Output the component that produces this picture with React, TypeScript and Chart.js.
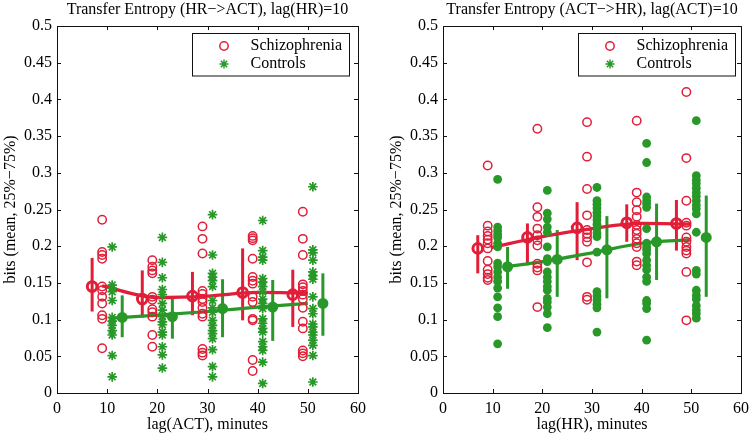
import React, { useEffect, useRef } from "react";
import { Chart, registerables } from "chart.js";
Chart.register(...registerables);

const RED = "rgb(224,30,56)";
const GREEN = "rgb(40,152,40)";
const FONT = "'Liberation Serif', 'Times New Roman', serif";

// ---------- shared axis data ----------
const xTicksMax = 60;
const yTicksMax = 0.5;
const schizoRawLags = [9, 19, 29, 39, 49];
const ctlRawLags = [11, 21, 31, 41, 51];
const schizoMeanLags = [7, 17, 27, 37, 47];
const ctlMeanLags = [13, 23, 33, 43, 53];

// ---------- Left panel: Transfer Entropy (HR->ACT) ----------
const hrActSchizo10 = [0.236, 0.192, 0.188, 0.183, 0.145, 0.140, 0.131, 0.122, 0.106, 0.101, 0.061];
const hrActSchizo20 = [0.181, 0.172, 0.167, 0.163, 0.131, 0.127, 0.114, 0.110, 0.104, 0.079, 0.063];
const hrActSchizo30 = [0.227, 0.210, 0.190, 0.139, 0.135, 0.128, 0.124, 0.116, 0.108, 0.104, 0.060, 0.055, 0.051];
const hrActSchizo40 = [0.214, 0.211, 0.208, 0.183, 0.158, 0.153, 0.149, 0.131, 0.124, 0.101, 0.099, 0.045, 0.030];
const hrActSchizo50 = [0.247, 0.210, 0.188, 0.148, 0.144, 0.139, 0.134, 0.128, 0.116, 0.097, 0.088, 0.058, 0.054, 0.050];

const hrActCtl10 = [0.199, 0.147, 0.143, 0.138, 0.126, 0.103, 0.098, 0.092, 0.085, 0.079, 0.051, 0.022];
const hrActCtl20 = [0.212, 0.178, 0.157, 0.141, 0.134, 0.122, 0.113, 0.104, 0.097, 0.093, 0.083, 0.079, 0.063, 0.052, 0.034];
const hrActCtl30 = [0.243, 0.188, 0.163, 0.158, 0.153, 0.145, 0.126, 0.116, 0.110, 0.099, 0.092, 0.085, 0.081, 0.074, 0.059, 0.036, 0.022];
const hrActCtl40 = [0.235, 0.194, 0.185, 0.181, 0.156, 0.151, 0.145, 0.138, 0.128, 0.122, 0.115, 0.101, 0.095, 0.088, 0.083, 0.070, 0.063, 0.058, 0.042, 0.013];
const hrActCtl50 = [0.281, 0.195, 0.191, 0.181, 0.165, 0.160, 0.155, 0.131, 0.115, 0.108, 0.094, 0.090, 0.083, 0.079, 0.072, 0.065, 0.051, 0.015];

const hrActSchizoMean = [0.145, 0.128, 0.132, 0.137, 0.134];
const hrActSchizoLo = [0.111, 0.103, 0.106, 0.099, 0.090];
const hrActSchizoHi = [0.184, 0.167, 0.165, 0.197, 0.168];
const hrActCtlMean = [0.103, 0.104, 0.115, 0.117, 0.122];
const hrActCtlLo = [0.076, 0.074, 0.076, 0.071, 0.078];
const hrActCtlHi = [0.133, 0.129, 0.155, 0.154, 0.163];

const hrActSchizoFitX = [9, 20, 30, 40, 50];
const hrActSchizoFitY = [0.146, 0.130, 0.132, 0.137, 0.136];
const hrActCtlFitX = [11, 20, 30, 40, 50];
const hrActCtlFitY = [0.102, 0.106, 0.111, 0.117, 0.122];

// ---------- Right panel: Transfer Entropy (ACT->HR) ----------
const actHrSchizo10 = [0.310, 0.228, 0.220, 0.214, 0.209, 0.204, 0.197, 0.180, 0.168, 0.162, 0.157, 0.154];
const actHrSchizo20 = [0.360, 0.253, 0.240, 0.224, 0.215, 0.208, 0.201, 0.176, 0.171, 0.167, 0.117];
const actHrSchizo30 = [0.369, 0.322, 0.278, 0.242, 0.222, 0.217, 0.212, 0.206, 0.178, 0.131, 0.127];
const actHrSchizo40 = [0.371, 0.273, 0.260, 0.249, 0.240, 0.229, 0.222, 0.217, 0.210, 0.204, 0.199, 0.179, 0.174];
const actHrSchizo50 = [0.410, 0.320, 0.262, 0.232, 0.228, 0.212, 0.206, 0.199, 0.194, 0.190, 0.165, 0.099];

const actHrCtl10 = [0.291, 0.226, 0.221, 0.216, 0.212, 0.204, 0.199, 0.177, 0.172, 0.165, 0.158, 0.152, 0.143, 0.131, 0.116, 0.104, 0.067];
const actHrCtl20 = [0.276, 0.245, 0.237, 0.226, 0.219, 0.199, 0.183, 0.179, 0.165, 0.158, 0.152, 0.145, 0.140, 0.129, 0.124, 0.117, 0.108, 0.089];
const actHrCtl30 = [0.280, 0.262, 0.257, 0.252, 0.246, 0.241, 0.236, 0.230, 0.224, 0.218, 0.213, 0.192, 0.138, 0.132, 0.127, 0.121, 0.116, 0.083];
const actHrCtl40 = [0.340, 0.314, 0.267, 0.262, 0.258, 0.253, 0.224, 0.204, 0.199, 0.195, 0.190, 0.181, 0.174, 0.168, 0.158, 0.152, 0.126, 0.122, 0.115, 0.072];
const actHrCtl50 = [0.371, 0.296, 0.290, 0.285, 0.279, 0.273, 0.268, 0.262, 0.256, 0.251, 0.244, 0.219, 0.167, 0.162, 0.140, 0.133, 0.128, 0.119, 0.113, 0.108, 0.102];

const actHrSchizoMean = [0.197, 0.212, 0.225, 0.232, 0.231];
const actHrSchizoLo = [0.163, 0.174, 0.181, 0.206, 0.194];
const actHrSchizoHi = [0.215, 0.231, 0.260, 0.257, 0.263];
const actHrCtlMean = [0.172, 0.182, 0.195, 0.206, 0.212];
const actHrCtlLo = [0.142, 0.131, 0.129, 0.154, 0.131];
const actHrCtlHi = [0.199, 0.222, 0.241, 0.258, 0.269];

const actHrSchizoFitX = [9.6, 20, 30, 40, 50];
const actHrSchizoFitY = [0.198, 0.213, 0.224, 0.231, 0.230];
const actHrCtlFitX = [12.6, 20, 30, 40, 50];
const actHrCtlFitY = [0.172, 0.179, 0.191, 0.204, 0.209];

// ---------- helpers ----------
const groupPoints = (lags: number[], groups: number[][]) =>
  groups.flatMap((vals, i) => vals.map((v) => ({ x: lags[i], y: v })));
const zipPoints = (xs: number[], ys: number[]) => xs.map((x, i) => ({ x, y: ys[i] }));

function drawStar(ctx: CanvasRenderingContext2D, x: number, y: number, r: number) {
  ctx.beginPath();
  ctx.moveTo(x - r, y); ctx.lineTo(x + r, y);
  ctx.moveTo(x, y - r); ctx.lineTo(x, y + r);
  const d = r * Math.SQRT1_2;
  ctx.moveTo(x - d, y - d); ctx.lineTo(x + d, y + d);
  ctx.moveTo(x - d, y + d); ctx.lineTo(x + d, y - d);
  ctx.stroke();
}

const framePlugin = {
  id: "frame",
  beforeDatasetsDraw(chart: any, _a: any, opts: any) {
    const ctx = chart.ctx;
    const xs = chart.scales.x, ys = chart.scales.y;
    ctx.save();
    ctx.lineCap = "butt";
    (opts.bars || []).forEach((b: any) => {
      ctx.strokeStyle = b.color;
      ctx.lineWidth = 3;
      b.xs.forEach((xv: number, i: number) => {
        const px = xs.getPixelForValue(xv);
        ctx.beginPath();
        ctx.moveTo(px, ys.getPixelForValue(b.lo[i]));
        ctx.lineTo(px, ys.getPixelForValue(b.hi[i]));
        ctx.stroke();
      });
    });
    ctx.restore();
  },
  afterDraw(chart: any, _a: any, opts: any) {
    const ctx = chart.ctx;
    const { left, right, top, bottom } = chart.chartArea;
    const xs = chart.scales.x, ys = chart.scales.y;
    ctx.save();
    // box
    ctx.strokeStyle = "#111";
    ctx.lineWidth = 1;
    ctx.strokeRect(Math.round(left) + 0.5, Math.round(top) + 0.5, Math.round(right - left), Math.round(bottom - top));
    // inward ticks
    const tl = 4;
    ys.ticks.forEach((t: any) => {
      const py = Math.round(ys.getPixelForValue(t.value)) + 0.5;
      ctx.beginPath();
      ctx.moveTo(left, py); ctx.lineTo(left + tl, py);
      ctx.moveTo(right, py); ctx.lineTo(right - tl, py);
      ctx.stroke();
    });
    xs.ticks.forEach((t: any) => {
      const px = Math.round(xs.getPixelForValue(t.value)) + 0.5;
      ctx.beginPath();
      ctx.moveTo(px, bottom); ctx.lineTo(px, bottom - tl);
      ctx.moveTo(px, top); ctx.lineTo(px, top + tl);
      ctx.stroke();
    });
    // title
    ctx.fillStyle = "#000";
    ctx.font = `16px ${FONT}`;
    ctx.textAlign = "center";
    ctx.textBaseline = "middle";
    ctx.fillText(opts.title, (left + right) / 2, 9.5);
    // legend
    const lx = 192.5, ly = 33.5, lw = 157, lh = 42.5;
    ctx.fillStyle = "#fff";
    ctx.fillRect(lx, ly, lw, lh);
    ctx.strokeStyle = "#111";
    ctx.strokeRect(lx, ly, lw, lh);
    ctx.strokeStyle = RED;
    ctx.lineWidth = 1.5;
    ctx.beginPath();
    ctx.arc(224, 46, 4.2, 0, Math.PI * 2);
    ctx.stroke();
    ctx.strokeStyle = GREEN;
    ctx.lineWidth = 1.5;
    drawStar(ctx, 224, 64, 4.5);
    ctx.fillStyle = "#000";
    ctx.textAlign = "left";
    ctx.fillText("Schizophrenia", 250.5, 46);
    ctx.fillText("Controls", 250.5, 64);
    ctx.restore();
  },
};

type PanelProps = {
  title: string;
  xTitle: string;
  ctlFilled: boolean;
  schizo: number[][];
  ctl: number[][];
  schizoMean: number[]; schizoLo: number[]; schizoHi: number[];
  ctlMean: number[]; ctlLo: number[]; ctlHi: number[];
  schizoFitX: number[]; schizoFitY: number[];
  ctlFitX: number[]; ctlFitY: number[];
  width: number; padRight: number;
};

function Panel(p: PanelProps) {
  const ref = useRef<HTMLCanvasElement | null>(null);
  useEffect(() => {
    if (!ref.current) return;
    const tickFont = { family: FONT, size: 16 };
    const chart = new Chart(ref.current, {
      type: "scatter",
      data: {
        datasets: [
          {
            label: "Schizophrenia",
            data: groupPoints(schizoRawLags, p.schizo),
            pointStyle: "circle",
            pointRadius: 4.2,
            borderWidth: 1.5,
            borderColor: RED,
            backgroundColor: "rgba(0,0,0,0)",
          },
          p.ctlFilled
            ? {
                label: "Controls",
                data: groupPoints(ctlRawLags, p.ctl),
                pointStyle: "circle",
                pointRadius: 4.4,
                borderWidth: 0,
                borderColor: GREEN,
                backgroundColor: GREEN,
              }
            : {
                label: "Controls",
                data: groupPoints(ctlRawLags, p.ctl),
                pointStyle: "star",
                pointRadius: 4.8,
                borderWidth: 1.7,
                borderColor: GREEN,
                backgroundColor: GREEN,
              },
          {
            label: "Schizophrenia mean",
            data: zipPoints(schizoMeanLags, p.schizoMean),
            pointStyle: "circle",
            pointRadius: 4.8,
            borderWidth: 3,
            borderColor: RED,
            backgroundColor: "rgba(0,0,0,0)",
          },
          {
            label: "Controls mean",
            data: zipPoints(ctlMeanLags, p.ctlMean),
            pointStyle: "circle",
            pointRadius: 5.5,
            borderWidth: 0,
            backgroundColor: GREEN,
          },
          {
            type: "line",
            label: "Schizophrenia trend",
            data: zipPoints(p.schizoFitX, p.schizoFitY),
            borderColor: RED,
            borderWidth: 3.2,
            pointRadius: 0,
            cubicInterpolationMode: "monotone",
            fill: false,
          },
          {
            type: "line",
            label: "Controls trend",
            data: zipPoints(p.ctlFitX, p.ctlFitY),
            borderColor: GREEN,
            borderWidth: 3.2,
            pointRadius: 0,
            cubicInterpolationMode: "monotone",
            fill: false,
          },
        ] as any,
      },
      options: {
        responsive: false,
        animation: false,
        events: [],
        layout: { padding: { top: 26, right: p.padRight, left: 0, bottom: 0 } },
        plugins: {
          legend: { display: false },
          tooltip: { enabled: false },
          frame: {
            title: p.title,
            bars: [
              { xs: schizoMeanLags, lo: p.schizoLo, hi: p.schizoHi, color: RED },
              { xs: ctlMeanLags, lo: p.ctlLo, hi: p.ctlHi, color: GREEN },
            ],
          },
        } as any,
        scales: {
          x: {
            type: "linear",
            min: 0,
            max: xTicksMax,
            grid: { display: false, drawTicks: false },
            border: { display: false },
            ticks: { stepSize: 10, font: tickFont, color: "#000", padding: 6, maxRotation: 0 },
            title: { display: true, text: p.xTitle, font: tickFont, color: "#000", padding: { top: 0, bottom: 2 } },
            afterFit: (s: any) => { s.height = 43; },
          },
          y: {
            type: "linear",
            min: 0,
            max: yTicksMax,
            grid: { display: false, drawTicks: false },
            border: { display: false },
            ticks: {
              stepSize: 0.05,
              font: tickFont,
              color: "#000",
              padding: 5,
              callback: (v: any) => String(+Number(v).toFixed(2)),
            },
            title: { display: true, text: "bits (mean, 25%\u221275%)", font: tickFont, color: "#000", padding: { top: 1, bottom: 0 } },
            afterFit: (s: any) => { s.width = 57; },
          },
        },
      },
      plugins: [framePlugin as any],
    });
    return () => chart.destroy();
  }, []);
  return <canvas ref={ref} width={p.width} height={436} style={{ width: p.width, height: 436, display: "block" }} />;
}

export default function App() {
  return (
    <div style={{ position: "fixed", left: 0, top: 0, width: 755, height: 436, background: "#fff" }}>
      <div style={{ position: "absolute", left: 0, top: 0 }}>
        <Panel
          title={"Transfer Entropy (HR\u2212>ACT), lag(HR)=10"}
          xTitle="lag(ACT), minutes"
          ctlFilled={false}
          schizo={[hrActSchizo10, hrActSchizo20, hrActSchizo30, hrActSchizo40, hrActSchizo50]}
          ctl={[hrActCtl10, hrActCtl20, hrActCtl30, hrActCtl40, hrActCtl50]}
          schizoMean={hrActSchizoMean} schizoLo={hrActSchizoLo} schizoHi={hrActSchizoHi}
          ctlMean={hrActCtlMean} ctlLo={hrActCtlLo} ctlHi={hrActCtlHi}
          schizoFitX={hrActSchizoFitX} schizoFitY={hrActSchizoFitY}
          ctlFitX={hrActCtlFitX} ctlFitY={hrActCtlFitY}
          width={377} padRight={19}
        />
      </div>
      <div style={{ position: "absolute", left: 386, top: 0 }}>
        <Panel
          title={"Transfer Entropy (ACT\u2212>HR), lag(ACT)=10"}
          xTitle="lag(HR), minutes"
          ctlFilled={true}
          schizo={[actHrSchizo10, actHrSchizo20, actHrSchizo30, actHrSchizo40, actHrSchizo50]}
          ctl={[actHrCtl10, actHrCtl20, actHrCtl30, actHrCtl40, actHrCtl50]}
          schizoMean={actHrSchizoMean} schizoLo={actHrSchizoLo} schizoHi={actHrSchizoHi}
          ctlMean={actHrCtlMean} ctlLo={actHrCtlLo} ctlHi={actHrCtlHi}
          schizoFitX={actHrSchizoFitX} schizoFitY={actHrSchizoFitY}
          ctlFitX={actHrCtlFitX} ctlFitY={actHrCtlFitY}
          width={369} padRight={11}
        />
      </div>
    </div>
  );
}
